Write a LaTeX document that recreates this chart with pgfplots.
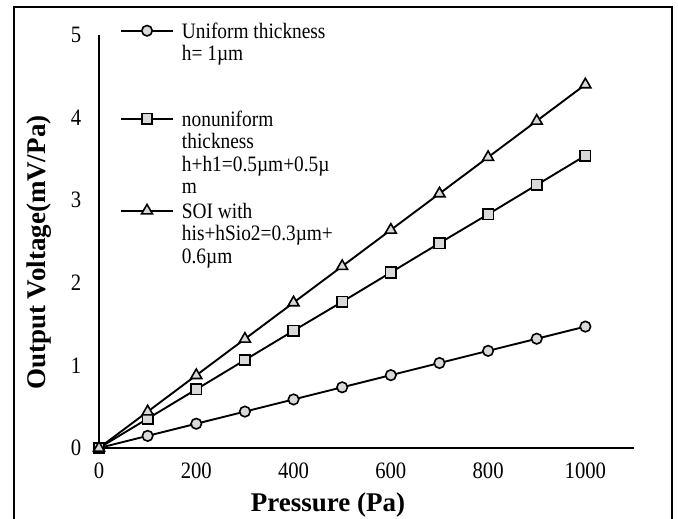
\documentclass[border=0pt]{standalone}
\usepackage{fontspec}
\setmainfont{Liberation Serif}[FakeStretch=0.88]
\newfontfamily\labelfont{Liberation Serif}
\usepackage{pgfplots}
\pgfplotsset{compat=1.18}
\definecolor{markgray}{HTML}{D9D9D9}

\begin{document}
\begin{tikzpicture}
\path[use as bounding box] (0,0) rectangle (678bp,519bp);
\clip (0,0) rectangle (678bp,519bp);
% outer frame (bottom edge runs off the page, as in the original)
\draw[line width=2bp] (13.5bp,-20bp) rectangle (672bp,512bp);
\begin{axis}[
    at={(99bp,71bp)}, anchor=south west,
    scale only axis, width=535bp, height=413bp,
    xmin=0, xmax=1100, ymin=0, ymax=5,
    axis lines=left,
    axis line style={-, line width=1.5bp},
    major tick length=0pt,
    xtick={0,200,...,1000}, ytick={0,1,...,5},
    /pgf/number format/1000 sep={},
    /pgf/number format/assume math mode=true,
    ticklabel style={font=\fontsize{23.5bp}{23.5bp}\selectfont, inner sep=0pt},
    xticklabel style={anchor=north, yshift=-15bp},
    yticklabel style={anchor=east, xshift=-17.5bp},
    xlabel={Pressure (Pa)},
    ylabel={Output Voltage(mV/Pa)},
    label style={font=\labelfont\fontsize{27bp}{27bp}\selectfont\bfseries},
    xlabel style={at={(axis description cs:0.428,-0.137)}, anchor=center},
    ylabel style={at={(axis description cs:-0.112,0.473)}, anchor=center},
    clip=false,
    every axis plot/.append style={line width=1.9bp, black,
        mark options={solid, fill=markgray, line width=1.6bp}},
    legend image code/.code={\draw[mark repeat=2, mark phase=2, #1]
        plot coordinates {(0bp,7.5bp) (26bp,7.5bp) (52bp,7.5bp)};},
    legend style={at={(0.039,1.029)}, anchor=north west, draw=none, fill=none,
        inner sep=0pt, row sep=0pt, column sep=8bp, cells={anchor=base west},
        nodes={inner sep=0pt, text depth=},
        font=\fontsize{22bp}{22.5bp}\selectfont},
]
\addplot[mark=*, mark size=5.25bp] coordinates {
    (0,0) (100,0.147) (200,0.294) (300,0.441) (400,0.588) (500,0.735)
    (600,0.882) (700,1.029) (800,1.176) (900,1.323) (1000,1.47)};
\addlegendentry{\raisebox{0pt}[15bp][73bp]{\parbox[t]{170bp}{\raggedright Uniform thickness\\h= 1µm}}}
\addplot[mark=square*, mark size=5.25bp] coordinates {
    (0,0) (100,0.355) (200,0.71) (300,1.065) (400,1.42) (500,1.77)
    (600,2.125) (700,2.48) (800,2.83) (900,3.185) (1000,3.54)};
\addlegendentry{\raisebox{0pt}[15bp][77bp]{\parbox[t]{170bp}{\raggedright nonuniform\\thickness\\h+h1=0.5µm+0.5µ\\m}}}
\addplot[mark=triangle*, mark size=6.3bp] coordinates {
    (0,0) (100,0.44) (200,0.88) (300,1.32) (400,1.76) (500,2.2)
    (600,2.64) (700,3.08) (800,3.52) (900,3.96) (1000,4.40)};
\addlegendentry{\raisebox{0pt}[15bp][50bp]{\parbox[t]{170bp}{\raggedright SOI with\\his+hSio2=0.3µm+\\0.6µm}}}
\end{axis}
\end{tikzpicture}
\end{document}
